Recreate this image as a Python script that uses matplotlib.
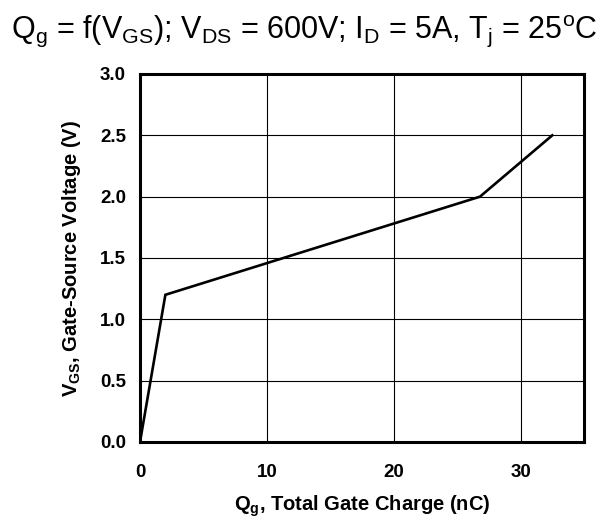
import numpy as np
import matplotlib
matplotlib.use("Agg")
import matplotlib.pyplot as plt

# gate charge curve
qg = [0.0, 2.0, 26.8, 32.5]
vgs = [0.0, 1.2, 2.0, 2.5]

xticks = [0, 10, 20, 30]
yticks = [0.0, 0.5, 1.0, 1.5, 2.0, 2.5, 3.0]

plt.rcParams['font.family'] = ['Liberation Sans', 'DejaVu Sans']
plt.rcParams['mathtext.fontset'] = 'custom'
plt.rcParams['mathtext.rm'] = 'Liberation Sans'
plt.rcParams['mathtext.it'] = 'Liberation Sans:italic'
plt.rcParams['mathtext.bf'] = 'Liberation Sans:bold'

fig = plt.figure(figsize=(6.08, 5.18), dpi=100)
ax = fig.add_axes([140/608, 76/518, 444/608, 368/518])

ax.plot(qg, vgs, color='black', lw=1.9, solid_joinstyle='miter')

ax.set_xlim(0, 35)
ax.set_ylim(0, 3.0)
ax.set_xticks(xticks)
ax.set_yticks(yticks)
ax.set_yticklabels(["%.1f" % v for v in yticks])
ax.grid(True, color='black', lw=0.8)
ax.tick_params(length=0, labelsize=13.5)
ax.tick_params(axis='x', pad=16)
ax.tick_params(axis='y', pad=10)
for lab in ax.get_xticklabels() + ax.get_yticklabels():
    lab.set_fontweight('bold')
for s in ax.spines.values():
    s.set_linewidth(2.2)

ax.set_xlabel(r"Q$_\mathbf{g}$, Total Gate Charge (nC)", fontsize=14.5, fontweight='bold', labelpad=9)
ax.set_ylabel(r"V$_\mathbf{GS}$, Gate-Source Voltage (V)", fontsize=14.5, fontweight='bold', labelpad=12)

fig.text(0.5, 1 - 38/518,
         r"Q$_\mathregular{g}$ = f(V$_\mathregular{GS}$); V$_\mathregular{DS}$ = 600V; "
         r"I$_\mathregular{D}$ = 5A, T$_\mathregular{j}$ = 25$^\mathregular{o}$C",
         ha='center', va='baseline', fontsize=22)

fig.savefig("out.png", dpi=100)
